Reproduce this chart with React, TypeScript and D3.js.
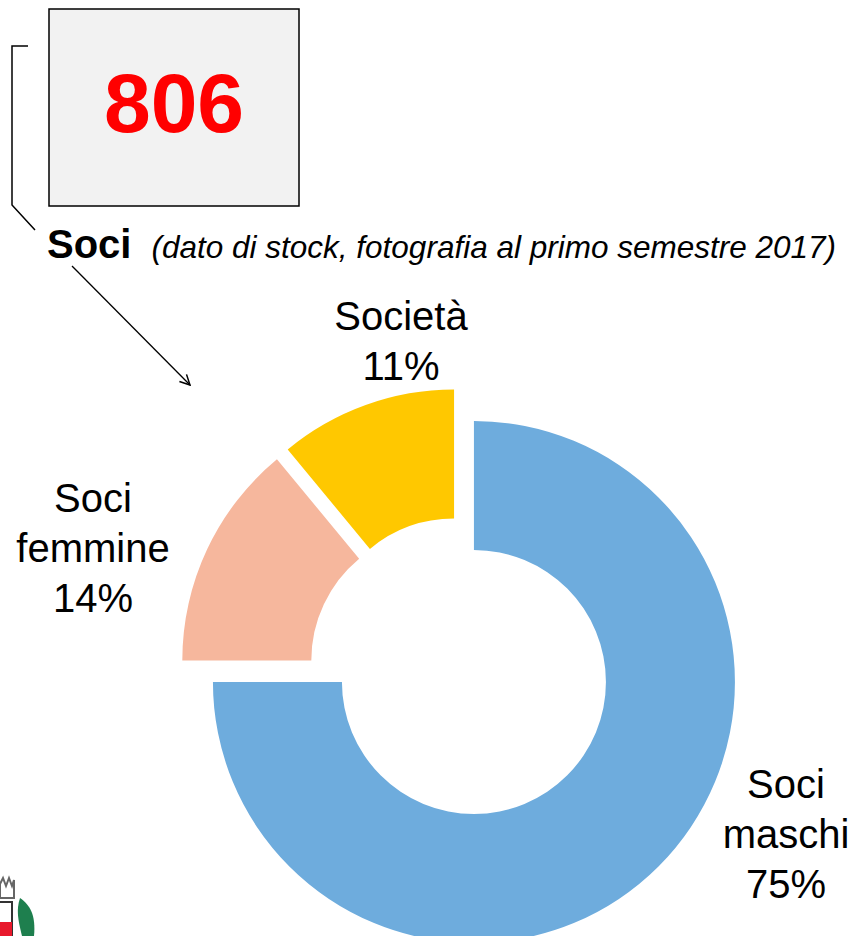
import React from "react";
import * as d3 from "d3";

const categories = ["Soci maschi", "Soci femmine", "Società"];
const values = [75, 14, 11];
const labelLines = [["Soci", "maschi", "75%"], ["Soci", "femmine", "14%"], ["Società", "11%"]];
const colors = ["#6EACDD", "#F6B79D", "#FFC800"];
const total = 806;

const W = 852, H = 936;
const cx = 460.5, cy = 668.5, R = 261, r = 132, explode = 19;
const labelPos: [number, number][] = [[786, 798], [93, 512], [401, 330]];

export default function App() {
  const pie = d3.pie<number>().sort(null).startAngle(0).endAngle(2 * Math.PI);
  const arcs = pie(values);
  const arcGen = d3.arc<d3.PieArcDatum<number>>().innerRadius(r).outerRadius(R);
  const font = "'Liberation Sans', Arial, sans-serif";
  return (
    <div style={{ position: "absolute", left: 0, top: 0 }}>
      <svg width={W} height={H} style={{ display: "block" }}>
        <defs>
          <marker id="arr" viewBox="0 0 12 12" refX="11" refY="6" markerWidth="12" markerHeight="12" markerUnits="userSpaceOnUse" orient="auto">
            <path d="M1,1 L11,6 L1,11" fill="none" stroke="#000" strokeWidth={1.5} />
          </marker>
        </defs>
        <rect x={49} y={9} width={250} height={197} fill="#F2F2F2" stroke="#000" strokeWidth={1.5} />
        <text x={174} y={132} textAnchor="middle" fill="#FF0000" fontFamily={font} fontWeight="bold" fontSize={84}>{total}</text>
        <polyline points="28,46 12,46 12,205 35,230" fill="none" stroke="#000" strokeWidth={1.5} />
        <line x1={72} y1={266} x2={190} y2={385} stroke="#000" strokeWidth={1.3} markerEnd="url(#arr)" />
        <text x={47} y={258} fontFamily={font} fontSize={40}>
          <tspan fontWeight="bold">Soci</tspan>
          <tspan dx={20} fontStyle="italic" fontSize={31.5}>(dato di stock, fotografia al primo semestre 2017)</tspan>
        </text>
        {arcs.map((a, i) => {
          const mid = (a.startAngle + a.endAngle) / 2;
          const dx = Math.sin(mid) * explode, dy = -Math.cos(mid) * explode;
          return (
            <path key={categories[i]} d={arcGen(a) || ""} fill={colors[i]} transform={`translate(${cx + dx},${cy + dy})`} />
          );
        })}
        {labelLines.map((lines, i) => (
          <text key={i} x={labelPos[i][0]} y={labelPos[i][1]} textAnchor="middle" fontFamily={font} fontSize={40} fill="#000">
            {lines.map((l, j) => (
              <tspan key={j} x={labelPos[i][0]} dy={j === 0 ? 0 : 50}>{l}</tspan>
            ))}
          </text>
        ))}
        <g>
          <path d="M0,884 L3,878 L6,886 L9,878 L12,886 L14,880 L14,898 L0,898 Z" fill="none" stroke="#666" strokeWidth={2} />
          <rect x={-2} y={902} width={14} height={36} fill="#fff" stroke="#333" strokeWidth={2} />
          <rect x={-2} y={922} width={14} height={16} fill="#E8192C" />
          <path d="M20,898 C30,905 36,915 34,936 L22,936 C18,920 16,910 20,898 Z" fill="#1E7F4E" />
        </g>
      </svg>
    </div>
  );
}
